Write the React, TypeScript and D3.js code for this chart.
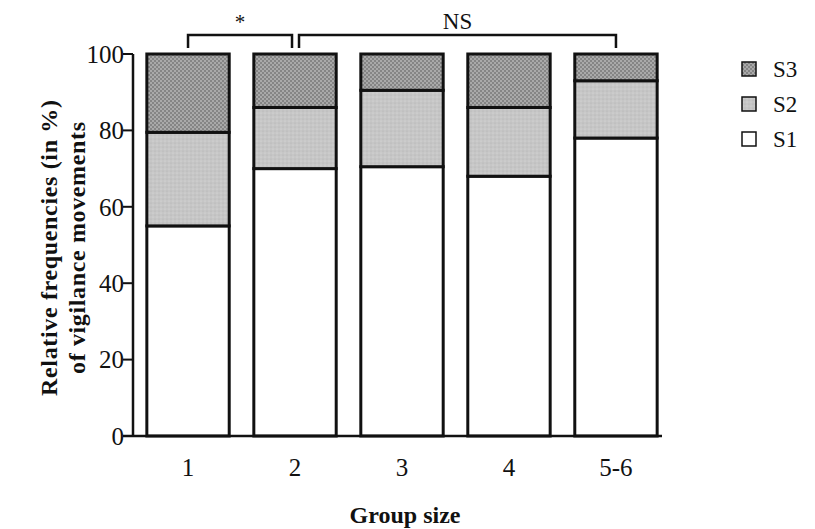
import React, { useRef, useEffect } from "react";
import * as d3 from "d3";

// data (percent)
const groups = ["1", "2", "3", "4", "5-6"];
const s1 = [55, 70, 70.5, 68, 78];
const s2 = [24.5, 16, 20, 18, 15];
const s3 = [20.5, 14, 9.5, 14, 7];
const yTicks = [0, 20, 40, 60, 80, 100];
const seriesNames = ["S1", "S2", "S3"];
const brackets = [
  { from: "1", to: "2", label: "*" },
  { from: "2", to: "5-6", label: "NS" },
];

export default function App() {
  const svgRef = useRef<SVGSVGElement>(null);

  useEffect(() => {
    const svg = d3.select(svgRef.current);
    svg.selectAll("*").remove();

    const serif = "'Liberation Serif', 'DejaVu Serif', serif";
    const x0 = 133;
    const x1 = 662;
    const y = d3.scaleLinear().domain([0, 100]).range([436, 54]);
    const x = d3.scaleBand().domain(groups).range([134, 670]).paddingInner(0.23).paddingOuter(0.12);

    // patterns
    const defs = svg.append("defs");
    const p3 = defs.append("pattern").attr("id", "pS3").attr("width", 4).attr("height", 4).attr("patternUnits", "userSpaceOnUse");
    p3.append("rect").attr("width", 4).attr("height", 4).attr("fill", "#858585");
    p3.append("circle").attr("cx", 1).attr("cy", 1).attr("r", 0.8).attr("fill", "#d8d8d8");
    p3.append("circle").attr("cx", 3).attr("cy", 3).attr("r", 0.8).attr("fill", "#d8d8d8");
    const p2 = defs.append("pattern").attr("id", "pS2").attr("width", 4).attr("height", 4).attr("patternUnits", "userSpaceOnUse");
    p2.append("rect").attr("width", 4).attr("height", 4).attr("fill", "#c6c6c6");
    p2.append("circle").attr("cx", 1).attr("cy", 1).attr("r", 0.6).attr("fill", "#dedede");
    p2.append("circle").attr("cx", 3).attr("cy", 3).attr("r", 0.6).attr("fill", "#b0b0b0");
    const fills: Record<string, string> = { S1: "#ffffff", S2: "url(#pS2)", S3: "url(#pS3)" };

    // stacked data
    const rows = groups.map((g, i) => ({ group: g, S1: s1[i], S2: s2[i], S3: s3[i] }));
    const stack = d3.stack<any>().keys(seriesNames)(rows);

    const layer = svg.selectAll("g.layer").data(stack).enter().append("g").attr("class", "layer");
    layer
      .selectAll("rect")
      .data((d) => d.map((v) => ({ key: d.key, v })))
      .enter()
      .append("rect")
      .attr("x", (d) => x(d.v.data.group)!)
      .attr("width", x.bandwidth())
      .attr("y", (d) => y(d.v[1]))
      .attr("height", (d) => y(d.v[0]) - y(d.v[1]))
      .attr("fill", (d) => fills[d.key])
      .attr("stroke", "#111")
      .attr("stroke-width", 3);

    // y axis
    svg.append("line").attr("x1", x0).attr("x2", x0).attr("y1", y(100)).attr("y2", y(0)).attr("stroke", "#111").attr("stroke-width", 2.5);
    svg.append("line").attr("x1", x0 - 10).attr("x2", x1).attr("y1", y(0)).attr("y2", y(0)).attr("stroke", "#111").attr("stroke-width", 2.5);
    const yt = svg.selectAll("g.ytick").data(yTicks).enter().append("g").attr("class", "ytick");
    yt.append("line").attr("x1", x0 - 10).attr("x2", x0).attr("y1", (d) => y(d)).attr("y2", (d) => y(d)).attr("stroke", "#111").attr("stroke-width", 2);
    yt.append("text")
      .attr("x", x0 - 9)
      .attr("y", (d) => y(d))
      .attr("dy", "0.35em")
      .attr("text-anchor", "end")
      .attr("font-family", serif)
      .attr("font-size", 25)
      .attr("fill", "#111")
      .text((d) => d);

    // x tick labels
    svg.selectAll("text.xl").data(groups).enter().append("text")
      .attr("class", "xl")
      .attr("x", (d) => x(d)! + x.bandwidth() / 2)
      .attr("y", 476)
      .attr("text-anchor", "middle")
      .attr("font-family", serif)
      .attr("font-size", 25)
      .attr("fill", "#111")
      .text((d) => d);

    svg.append("text").attr("x", 405).attr("y", 523).attr("text-anchor", "middle")
      .attr("font-family", serif).attr("font-size", 24).attr("font-weight", "bold").attr("fill", "#111").text("Group size");

    const yl = svg.append("text").attr("transform", "translate(57,248) rotate(-90)").attr("text-anchor", "middle")
      .attr("font-family", serif).attr("font-size", 24).attr("font-weight", "bold").attr("fill", "#111");
    yl.append("tspan").attr("x", 0).attr("y", 0).attr("textLength", 296).attr("lengthAdjust", "spacing").text("Relative frequencies (in %)");
    yl.append("tspan").attr("x", 0).attr("y", 28).attr("textLength", 252).attr("lengthAdjust", "spacing").text("of vigilance movements");

    // significance brackets
    const by = 35;
    brackets.forEach((b, i) => {
      const xa = x(b.from)! + x.bandwidth() / 2 + (i === 1 ? 4 : 0);
      const xb = x(b.to)! + x.bandwidth() / 2 - (i === 0 ? 3 : 0);
      svg.append("path").attr("d", `M${xa},${by + 13}V${by}H${xb}V${by + 13}`)
        .attr("fill", "none").attr("stroke", "#111").attr("stroke-width", 2.5);
      svg.append("text").attr("x", (xa + xb) / 2).attr("y", by - 6).attr("text-anchor", "middle")
        .attr("font-family", serif).attr("font-size", i === 0 ? 21 : 23).attr("fill", "#111").text(b.label);
    });

    // legend
    const legend = ["S3", "S2", "S1"];
    const lg = svg.selectAll("g.lg").data(legend).enter().append("g").attr("class", "lg")
      .attr("transform", (d, i) => `translate(742,${62 + i * 35})`);
    lg.append("rect").attr("width", 14).attr("height", 14).attr("fill", (d) => fills[d]).attr("stroke", "#111").attr("stroke-width", 1.5);
    lg.append("text").attr("x", 31).attr("y", 7).attr("dy", "0.35em").attr("font-family", serif).attr("font-size", 23).attr("fill", "#111").text((d) => d);
  }, []);

  return <svg ref={svgRef} width={815} height={529} style={{ display: "block", position: "absolute", left: 0, top: 0, background: "#fff" }} />;
}
